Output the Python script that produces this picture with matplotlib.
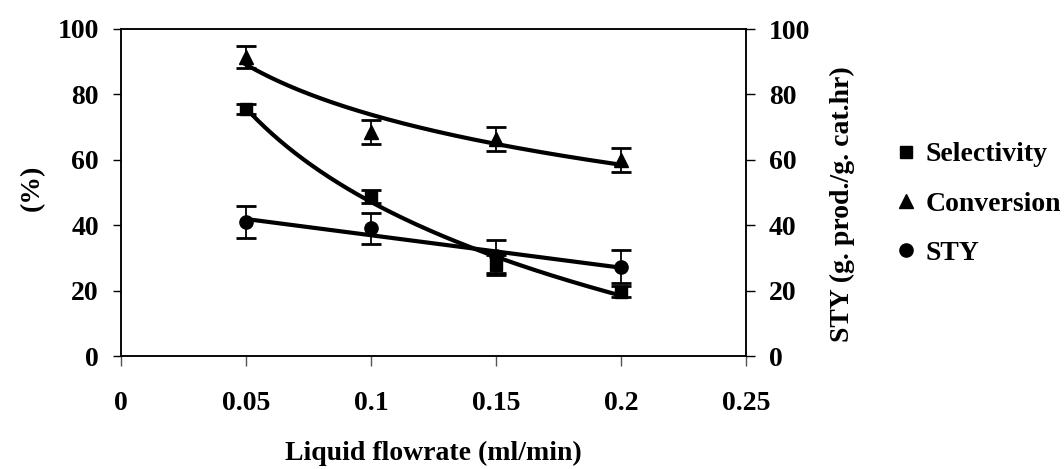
import numpy as np
import matplotlib
matplotlib.use("Agg")
import matplotlib.pyplot as plt
from matplotlib.lines import Line2D

# ---- data ----
flowrate = [0.05, 0.10, 0.15, 0.20]
selectivity = [75.5, 48.7, 27.8, 19.7]
selectivity_err = [1.5, 2.0, 3.0, 1.8]
conversion = [91.5, 68.5, 66.3, 60.0]
conversion_err = [3.4, 3.6, 3.7, 3.7]
sty = [41.0, 39.0, 30.5, 27.3]
sty_err = [5.0, 4.8, 5.0, 5.0]
x_ticks = [0, 0.05, 0.1, 0.15, 0.2, 0.25]
x_ticklabels = ["0", "0.05", "0.1", "0.15", "0.2", "0.25"]
y_ticks = [0, 20, 40, 60, 80, 100]

plt.rcParams['font.family'] = ['Liberation Serif', 'DejaVu Serif']
plt.rcParams['font.weight'] = 'bold'
FS = 20

fig = plt.figure(figsize=(10.64, 4.69), dpi=100)
ax = fig.add_axes([121/1064, 1-356/469, (746-121)/1064, (356-29)/469])
ax2 = ax.twinx()

x = np.array(flowrate)
xs = np.linspace(x.min(), x.max(), 200)

# trend lines (fits from the data through numpy)
cs = np.polyfit(np.log(x), selectivity, 1)
cc = np.polyfit(np.log(x), conversion, 1)
cy = np.polyfit(x, sty, 1)
ax.plot(xs, np.polyval(cs, np.log(xs)), color='black', lw=3, zorder=3)
ax.plot(xs, np.polyval(cc, np.log(xs)), color='black', lw=3, zorder=3)
ax2.plot(xs, np.polyval(cy, xs), color='black', lw=3, zorder=3)

ekw = dict(fmt='none', ecolor='black', elinewidth=1.3, capsize=7, capthick=2, zorder=2)
ax.errorbar(x, selectivity, yerr=selectivity_err, **ekw)
ax.errorbar(x, conversion, yerr=conversion_err, **ekw)
ax2.errorbar(x, sty, yerr=sty_err, **ekw)

ax.plot(x, selectivity, ls='none', marker='s', ms=9, color='black', zorder=4)
ax.plot(x, conversion, ls='none', marker='^', ms=10, color='black', zorder=4)
ax2.plot(x, sty, ls='none', marker='o', ms=9.5, color='black', zorder=4)

for a in (ax, ax2):
    a.set_xlim(0, 0.25)
    a.set_ylim(0, 100)
    a.set_yticks(y_ticks)
    for s in a.spines.values():
        s.set_linewidth(1.1)
ax.set_xticks(x_ticks)
ax.set_xticklabels(x_ticklabels)
ax.tick_params(axis='x', direction='out', length=7, width=1, color='#555555',
               labelsize=FS, pad=18)
ax.tick_params(axis='y', direction='out', length=6, width=1, labelsize=FS, pad=10)
ax2.tick_params(axis='y', direction='out', length=6.5, width=1, labelsize=FS, pad=10)
for lbl in ax.get_xticklabels() + ax.get_yticklabels() + ax2.get_yticklabels():
    lbl.set_fontweight('bold')

ax.set_xlabel("Liquid flowrate (ml/min)", fontsize=FS, fontweight='bold', labelpad=18)
ax.set_ylabel("(%)", fontsize=FS, fontweight='bold', labelpad=9)
ax2.set_ylabel("STY (g. prod./g. cat.hr)", fontsize=FS, fontweight='bold', labelpad=14)
ax.yaxis.label.set_y(0.515)
ax2.yaxis.label.set_y(0.465)

handles = [Line2D([], [], ls='none', marker='s', ms=9, color='black'),
           Line2D([], [], ls='none', marker='^', ms=10, color='black'),
           Line2D([], [], ls='none', marker='o', ms=9.5, color='black')]
leg = fig.legend(handles, ["Selectivity", "Conversion", "STY"],
                 loc='upper left', bbox_to_anchor=(898/1064, 1-142/469),
                 frameon=False, fontsize=FS, handlelength=0.6, handletextpad=0.4,
                 labelspacing=0.85, borderpad=0, borderaxespad=0,
                 prop={'weight': 'bold', 'size': FS})

fig.savefig("out.png", dpi=100)
